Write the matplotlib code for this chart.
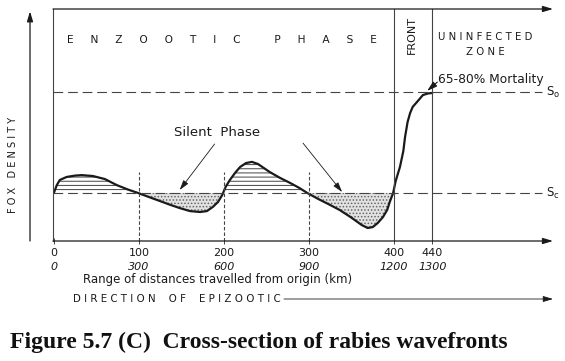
import numpy as np
import matplotlib.pyplot as plt

plt.rcParams['font.family'] = ['DejaVu Sans']
plt.rcParams['hatch.linewidth'] = 0.7
plt.rcParams['lines.scale_dashes'] = False

# distance (scale of the upper tick row) and fox density (0-100 of plot height)
dist = [0, 3.5, 7, 15, 25, 33, 46, 60, 74, 87, 99, 113, 125, 136, 148, 160, 172, 180,
        187, 193, 198, 202, 207, 213, 219, 226, 233, 240, 254, 266, 278, 289, 298,
        311, 324, 336, 349, 362, 369, 375, 381, 387, 392, 395, 399, 402, 407, 411,
        413, 416, 419, 422, 427, 434, 440, 445]
density = [20.7, 24.1, 26.3, 27.6, 28.2, 28.4, 28.0, 26.7, 24.1, 22.2, 20.7, 18.8, 17.2,
           15.7, 14.2, 12.9, 12.5, 12.9, 14.7, 16.8, 19.8, 23.3, 26.3, 29.3, 31.9, 33.6,
           34.1, 33.2, 29.7, 27.2, 25.0, 22.8, 20.7, 18.1, 15.7, 13.4, 10.3, 6.9, 5.6,
           6.0, 7.8, 10.3, 13.4, 16.8, 20.7, 25.9, 31.9, 38.8, 44.8, 51.3, 55.2, 57.8,
           59.9, 62.9, 63.6, 63.8]

s_c = 20.7   # threshold density
s_o = 64.2   # initial density
front = [400, 445]
silent_end = 399

tick_pos = [0, 100, 200, 300, 400, 445]
tick_top = ['0', '100', '200', '300', '400', '440']
tick_bottom = ['0', '300', '600', '900', '1200', '1300']
dashed_at = [100, 200, 300]

ink = '#1a1a1a'
thin = '#444444'

fig = plt.figure(figsize=(5.65, 3.61), dpi=100)
ax = fig.add_axes([53 / 565, 120 / 361, 500 / 565, 232 / 361])
ax.set_xlim(-1, 587)
ax.set_ylim(0, 100)
for side in ['top', 'right', 'bottom']:
    ax.spines[side].set_visible(False)
ax.spines['left'].set_color(thin)
ax.spines['left'].set_linewidth(0.8)
ax.set_yticks([])
ax.set_xticks(tick_pos)
ax.set_xticklabels([])
ax.tick_params(axis='x', direction='inout', length=5, width=0.7, color=thin)

d = np.array(dist)
y = np.array(density)
m = d <= silent_end
ax.fill_between(d[m], y[m], s_c, where=y[m] >= s_c, interpolate=True,
                facecolor='none', edgecolor='#444444', hatch='----', linewidth=0)
ax.fill_between(d[m], y[m], s_c, where=y[m] <= s_c, interpolate=True,
                facecolor='#e2e2e2', edgecolor='#666666', hatch='.....', linewidth=0)
ax.plot(d, y, color=ink, lw=1.6, solid_capstyle='round')

# threshold lines
for lev, lab in [(s_o, r'$\mathregular{S_o}$'), (s_c, r'$\mathregular{S_c}$')]:
    ax.plot([-1, 574], [lev, lev], color=thin, lw=0.8, dashes=[7, 3.5])
    ax.text(579, lev, lab, fontsize=8.5, va='center', ha='left', color=ink)

for xv in dashed_at:
    ax.plot([xv, xv], [0, 29.7], color=thin, lw=0.8, dashes=[2.5, 1.5])
for xv in front:
    ax.plot([xv, xv], [0, 100], color=thin, lw=0.8)

arrow = dict(arrowstyle='-|>,head_length=0.6,head_width=0.18', color=ink, lw=0.9,
             shrinkA=0, shrinkB=0)
# frame arrows
ax.annotate('', xy=(1, 1), xytext=(0, 1), xycoords='axes fraction', arrowprops=arrow)
ax.annotate('', xy=(1, 0), xytext=(0, 0), xycoords='axes fraction', arrowprops=arrow)
ax.annotate('', xy=(-0.046, 0.99), xytext=(-0.046, 0.0), xycoords='axes fraction',
            arrowprops=arrow, annotation_clip=False)
ax.annotate('', xy=(1, -0.25), xytext=(0.462, -0.25), xycoords='axes fraction',
            arrowprops=dict(arrow, lw=0.6), annotation_clip=False)

# labels
ax.text(15, 86.6, 'E     N     Z     O     O     T     I     C          '
        'P     H     A     S     E', fontsize=7.7, va='center', color=ink)
ax.text(421, 88.8, 'FRONT', fontsize=8, rotation=90, ha='center', va='center', color=ink)
ax.text(507, 87.9, 'U N I N F E C T E D', fontsize=7.3, ha='center', va='center', color=ink)
ax.text(507, 81.5, 'Z O N E', fontsize=7.3, ha='center', va='center', color=ink)
ax.text(452, 69.4, '65-80% Mortality', fontsize=8.8, va='center', color=ink)
ax.annotate('', xy=(439, 64.7), xytext=(451, 68.5),
            arrowprops=dict(arrow, lw=0.8))
ax.text(192, 46.6, 'Silent  Phase', fontsize=9.5, ha='center', va='center', color=ink)
ax.annotate('', xy=(148, 22), xytext=(189, 41.8), arrowprops=dict(arrow, lw=0.6))
ax.annotate('', xy=(339, 21.1), xytext=(293, 42.2), arrowprops=dict(arrow, lw=0.6))
ax.text(-0.08, 0.33, 'F O X   D E N S I T Y', fontsize=7, rotation=90, ha='center',
        va='center', transform=ax.transAxes, color=ink)

tr = ax.get_xaxis_transform()
for xv, t1, t2 in zip(tick_pos, tick_top, tick_bottom):
    ax.text(xv, -0.052, t1, fontsize=8, ha='center', va='center', transform=tr, color=ink)
    ax.text(xv, -0.112, t2, fontsize=8, ha='center', va='center', style='italic',
            transform=tr, color=ink)
ax.text(192, -0.164, 'Range of distances travelled from origin (km)', fontsize=8.5,
        ha='center', va='center', transform=tr, color=ink)
ax.text(0.04, -0.25, 'D I R E C T I O N    O F    E P I Z O O T I C', fontsize=7.4,
        ha='left', va='center', transform=ax.transAxes, color=ink)

fig.text(10 / 565, 1 - 342 / 361, 'Figure 5.7 (C)  Cross-section of rabies wavefronts',
         fontsize=17, fontweight='bold', family=['Liberation Serif'], va='center',
         color='#111111')

fig.savefig('out.png', dpi=100)
